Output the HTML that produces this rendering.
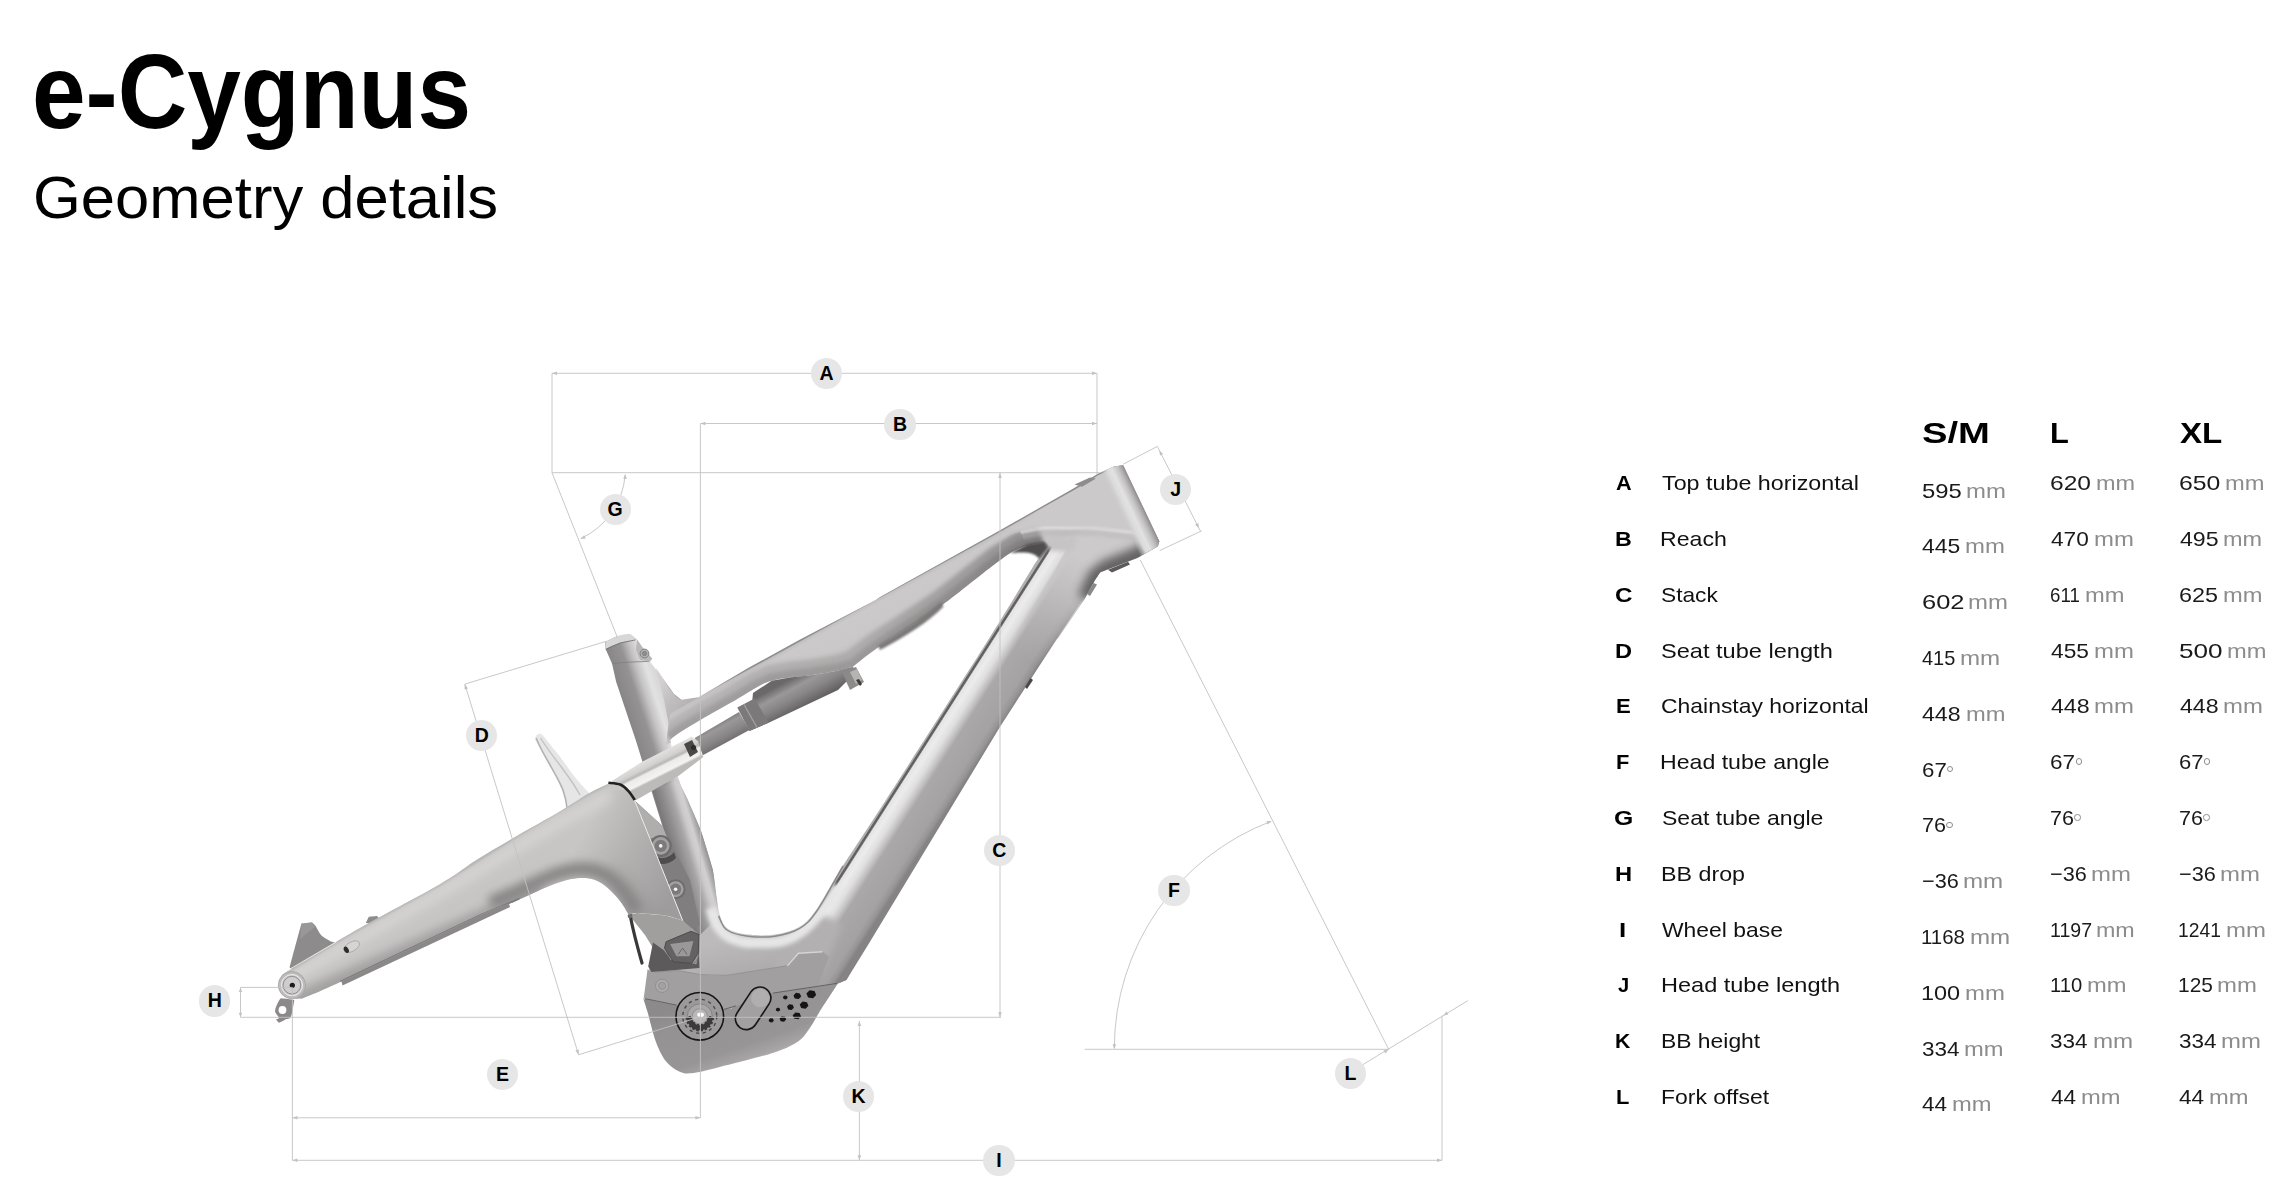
<!DOCTYPE html>
<html><head><meta charset="utf-8"><title>e-Cygnus Geometry details</title>
<style>
html,body{margin:0;padding:0;background:#fff;}
body{width:2292px;height:1184px;position:relative;overflow:hidden;font-family:"Liberation Sans",sans-serif;}
.t{position:absolute;white-space:pre;line-height:1;transform-origin:0 0;font-family:"Liberation Sans",sans-serif;}
.deg{position:absolute;width:4.6px;height:4.6px;border:0.9px solid #8c8c8c;border-radius:50%;}
.mk{position:absolute;width:31.4px;height:31.4px;border-radius:50%;background:#e6e6e6;color:#000;
 font:bold 19.5px/31.6px "Liberation Sans",sans-serif;text-align:center;}
svg{position:absolute;left:0;top:0;}
</style></head><body>
<svg width="2292" height="1184" viewBox="0 0 2292 1184">
<defs><filter id="b1" x="-50%" y="-50%" width="200%" height="200%"><feGaussianBlur stdDeviation="1"/></filter><filter id="b2" x="-50%" y="-50%" width="200%" height="200%"><feGaussianBlur stdDeviation="2"/></filter><filter id="b3" x="-50%" y="-50%" width="200%" height="200%"><feGaussianBlur stdDeviation="3"/></filter><filter id="b5" x="-50%" y="-50%" width="200%" height="200%"><feGaussianBlur stdDeviation="5"/></filter><filter id="b8" x="-50%" y="-50%" width="200%" height="200%"><feGaussianBlur stdDeviation="8"/></filter><linearGradient id="gDT" gradientUnits="userSpaceOnUse" x1="926" y1="731" x2="976.8" y2="763.4"><stop offset="0" stop-color="#b4b2b2"/><stop offset="0.075" stop-color="#b0aeae"/><stop offset="0.09" stop-color="#626060"/><stop offset="0.115" stop-color="#626060"/><stop offset="0.135" stop-color="#e4e4e4"/><stop offset="0.22" stop-color="#ececec"/><stop offset="0.33" stop-color="#e0dfdf"/><stop offset="0.42" stop-color="#c6c4c4"/><stop offset="0.5" stop-color="#aaa8a8"/><stop offset="0.85" stop-color="#a4a2a2"/><stop offset="0.94" stop-color="#979595"/><stop offset="1" stop-color="#858383"/></linearGradient><linearGradient id="gDTa" gradientUnits="userSpaceOnUse" x1="1075" y1="560" x2="990" y2="700"><stop offset="0" stop-color="#d2d0d0"/><stop offset="0.45" stop-color="#cfcdcd"/><stop offset="1" stop-color="#cfcdcd"/></linearGradient><linearGradient id="gDTl" gradientUnits="userSpaceOnUse" x1="1085" y1="560" x2="1025" y2="660"><stop offset="0" stop-color="#cccaca" stop-opacity="1"/><stop offset="0.3" stop-color="#c8c6c6" stop-opacity="0.8"/><stop offset="1" stop-color="#bcbaba" stop-opacity="0"/></linearGradient><linearGradient id="gTT" gradientUnits="userSpaceOnUse" x1="880" y1="597" x2="903" y2="639"><stop offset="0" stop-color="#8e8c8c"/><stop offset="0.025" stop-color="#c2c0c0"/><stop offset="0.1" stop-color="#cbc9c9"/><stop offset="0.5" stop-color="#cac8c8"/><stop offset="0.7" stop-color="#c6c4c4"/><stop offset="1" stop-color="#c0bebe"/></linearGradient><linearGradient id="gST" gradientUnits="userSpaceOnUse" x1="616" y1="682" x2="662" y2="667"><stop offset="0" stop-color="#878585"/><stop offset="0.32" stop-color="#959393"/><stop offset="0.5" stop-color="#c4c2c2"/><stop offset="0.68" stop-color="#e2e2e2"/><stop offset="0.88" stop-color="#d6d5d5"/><stop offset="1" stop-color="#9a9898"/></linearGradient><linearGradient id="gST2" gradientUnits="userSpaceOnUse" x1="670" y1="850" x2="703.1" y2="840.2"><stop offset="0" stop-color="#787676"/><stop offset="0.25" stop-color="#8e8c8c"/><stop offset="0.5" stop-color="#a8a6a6"/><stop offset="0.68" stop-color="#cccaca"/><stop offset="0.8" stop-color="#d2d0d0"/><stop offset="0.9" stop-color="#b4b2b2"/><stop offset="1" stop-color="#9a9898"/></linearGradient><linearGradient id="gHTc" gradientUnits="userSpaceOnUse" x1="1100" y1="472" x2="1121.6" y2="461.8"><stop offset="0" stop-color="#cbc9c8" stop-opacity="0"/><stop offset="0.3" stop-color="#dcdbdb"/><stop offset="0.5" stop-color="#e2e2e2"/><stop offset="0.75" stop-color="#c4c2c2"/><stop offset="0.92" stop-color="#a3a1a1"/><stop offset="1" stop-color="#8a8888"/></linearGradient><linearGradient id="gSH" gradientUnits="userSpaceOnUse" x1="770" y1="690" x2="785" y2="718"><stop offset="0" stop-color="#6a6868"/><stop offset="0.3" stop-color="#9a9898"/><stop offset="0.6" stop-color="#878585"/><stop offset="1" stop-color="#605e5e"/></linearGradient><linearGradient id="gBB" gradientUnits="userSpaceOnUse" x1="760" y1="930" x2="775" y2="990"><stop offset="0" stop-color="#bcbaba"/><stop offset="0.5" stop-color="#b1afaf"/><stop offset="1" stop-color="#a3a1a1"/></linearGradient><linearGradient id="gCS" gradientUnits="userSpaceOnUse" x1="400" y1="872" x2="428" y2="922"><stop offset="0" stop-color="#b4b2b2"/><stop offset="0.06" stop-color="#cac8c8"/><stop offset="0.45" stop-color="#c9c7c6"/><stop offset="0.55" stop-color="#d2d1d0"/><stop offset="0.62" stop-color="#c4c2c2"/><stop offset="0.85" stop-color="#b8b6b6"/><stop offset="0.93" stop-color="#9c9a9a"/><stop offset="1" stop-color="#7e7c7c"/></linearGradient><linearGradient id="gLK" gradientUnits="userSpaceOnUse" x1="650" y1="757" x2="660" y2="777"><stop offset="0" stop-color="#e3e2e1"/><stop offset="0.35" stop-color="#d3d1cf"/><stop offset="0.5" stop-color="#b9b7b5"/><stop offset="0.6" stop-color="#ecebea"/><stop offset="0.9" stop-color="#f3f2f1"/><stop offset="1" stop-color="#bdbbb9"/></linearGradient><linearGradient id="gMC" gradientUnits="userSpaceOnUse" x1="690" y1="1000" x2="720" y2="1072"><stop offset="0" stop-color="#9a9898"/><stop offset="0.7" stop-color="#949292"/><stop offset="0.92" stop-color="#a09e9e"/><stop offset="1" stop-color="#b0aeae"/></linearGradient><linearGradient id="gFL" gradientUnits="userSpaceOnUse" x1="655" y1="690" x2="690" y2="715"><stop offset="0" stop-color="#d2d0d0"/><stop offset="0.5" stop-color="#bebcbc"/><stop offset="1" stop-color="#b0aeae"/></linearGradient><clipPath id="cpTT"><path d="M666.0,745.0 L681.4,737.0 L700.3,726.0 L731.0,709.0 L756.0,694.0 L774.3,686.0 L810.7,681.0 L836.0,677.0 L852.9,672.0 L878.3,653.0 L912.0,631.0 L942.5,611.0 L998.3,567.0 L1020.2,554.0 L1042.2,549.0 L1049.0,546.0 L1075.0,532.0 L1096.0,529.0 L1129.0,531.0 L1146.7,533.0 L1159.3,541.2 L1123.2,465.2 L1113.7,466.5 L1097.9,473.8 L1074.3,488.1 L998.3,531.2 L880.0,597.1 L875.7,600.0 L799.6,639.7 L749.0,667.6 L698.3,697.4 L681.4,706.8 L670.0,713.2 Z"/></clipPath><linearGradient id="gLW1" gradientUnits="userSpaceOnUse" x1="700" y1="0" x2="1040" y2="0"><stop offset="0" stop-color="#b6b4b4"/><stop offset="0.5" stop-color="#adabab"/><stop offset="0.8" stop-color="#9e9c9c"/><stop offset="1" stop-color="#8e8c8c"/></linearGradient><linearGradient id="gLW2" gradientUnits="userSpaceOnUse" x1="700" y1="0" x2="1040" y2="0"><stop offset="0" stop-color="#a09e9e"/><stop offset="0.5" stop-color="#9a9898"/><stop offset="0.8" stop-color="#8c8a8a"/><stop offset="1" stop-color="#7c7a7a"/></linearGradient><linearGradient id="gUF" gradientUnits="userSpaceOnUse" x1="985" y1="545" x2="1045" y2="512"><stop offset="0" stop-color="#cac8c8" stop-opacity="0"/><stop offset="1" stop-color="#cbc9c9" stop-opacity="1"/></linearGradient><clipPath id="cpHull"><path d="M1020.0,531.0 L1074.3,488.1 L1097.9,473.8 L1113.7,466.5 L1123.2,465.2 L1159.3,541.2 L1158.0,546.3 L1137.8,557.7 L1108.7,569.1 L1100.0,572.4 L1095.0,580.0 L1084.8,598.8 L1058.0,638.3 L1034.6,675.7 L985.0,690.0 L1016.0,634.0 L1049.0,546.0 L1030.0,553.0 Z"/></clipPath><clipPath id="cpRT"><path d="M282.0,974.9 C294.1,967.6 328.3,946.1 354.6,931.0 C380.9,915.9 419.7,896.0 440.0,884.2 C460.3,872.4 464.0,867.8 476.3,860.0 C488.6,852.2 499.7,845.9 513.8,837.7 C527.9,829.5 548.7,818.0 561.1,810.7 C573.5,803.4 580.2,798.3 588.1,793.8 C596.0,789.3 605.0,785.4 608.4,783.7 C610.4,784.0 616.8,783.9 620.2,785.3 C623.6,786.7 626.3,789.6 628.7,792.1 C631.1,794.6 633.6,799.1 634.6,800.5 C637.0,806.4 643.7,823.0 648.9,836.0 C654.1,849.0 660.2,864.2 665.8,878.3 C671.4,892.4 679.9,913.5 682.7,920.5 C679.9,919.6 673.4,916.7 665.8,915.4 C658.2,914.1 643.3,913.0 637.1,912.9 C630.9,912.8 630.1,914.3 628.7,914.6 C627.6,912.8 624.4,907.1 621.9,903.6 C619.4,900.1 616.9,896.9 613.5,893.5 C610.1,890.1 605.8,885.8 601.6,883.3 C597.4,880.8 593.2,879.0 588.1,878.3 C583.0,877.6 578.0,877.7 571.2,879.1 C564.5,880.5 557.2,882.9 547.6,886.7 C538.0,890.5 525.1,897.1 513.8,901.9 C502.5,906.7 508.8,902.1 480.0,915.4 C451.2,928.7 370.7,967.8 341.1,981.6 C311.5,995.5 308.7,995.7 302.2,998.5 C300.5,998.4 295.5,999.1 292.0,998.0 C288.5,996.9 283.2,994.7 281.0,992.0 C278.8,989.3 278.8,984.9 279.0,982.0 C279.2,979.1 281.5,976.1 282.0,974.9 Z"/></clipPath><linearGradient id="gYK" gradientUnits="userSpaceOnUse" x1="585" y1="830" x2="680" y2="880"><stop offset="0" stop-color="#9a9898" stop-opacity="0"/><stop offset="0.6" stop-color="#a09e9e" stop-opacity="0.65"/><stop offset="1" stop-color="#9a9898" stop-opacity="0.9"/></linearGradient><linearGradient id="gMC2" gradientUnits="userSpaceOnUse" x1="700" y1="1000" x2="725" y2="1072"><stop offset="0" stop-color="#8c8a8a"/><stop offset="0.25" stop-color="#949292"/><stop offset="0.75" stop-color="#979595"/><stop offset="0.93" stop-color="#a6a4a4"/><stop offset="1" stop-color="#b2b0b0"/></linearGradient></defs>
<g><path d="M537.5,734.6 C539.5,733 541.5,733.6 542.8,735.3 C548,742 552,747 556.7,752.6 C562,759 568,768 573,774.8 C578,781 584,788 590,794 L568,812 C566,806 566,804 565.9,803.2 C565,797 563,792 560.8,787 C557,778 552,770 548.6,762.7 C544,754 539,747 535.5,740.4 C535,738 535.5,736 537.5,734.6 Z" fill="#e6e6e6" />
<path d="M536.2,738 C540,748 546,758 549.5,764 C554,772 560,782 563,790 C565,796 566.5,802 567,808" fill="none" stroke="#b4b2b2" stroke-width="1.6"/>
<path d="M540.5,738 C548,750 556,760 562,768 C568,776 575,786 580,795" fill="none" stroke="#c4c2c2" stroke-width="1.4"/>
<polygon points="605.2,642.0 605.7,649.3 612.0,663.5 616.2,682.0 635.8,740.2 654.3,800.0 690.0,915.0 700.0,960.0 745.0,960.0 740.0,930.0 719.9,915.4 716.5,895.2 713.1,869.8 701.3,831.0 688.1,800.0 679.1,780.0 671.2,743.6 672.0,737.7 690.0,715.0 681.4,699.7 674.0,694.0 665.4,682.0 650.2,661.9 652.3,658.7 642.4,647.2 637.1,639.4 630.8,634.4 615.0,637.0" fill="url(#gST)" />
<polygon points="652.3,790.4 690.0,915.0 700.0,960.0 745.0,960.0 740.0,930.0 719.9,915.4 716.5,895.2 713.1,869.8 701.3,831.0 688.1,800.0 679.1,780.0" fill="url(#gST2)" />
<path d="M605.4,642.5 C612,636.5 626,632.5 631,634.4 L637.1,639.4 C626,640 612,645 605.7,649.3 Z" fill="#d8d7d7" />
<polyline points="605.7,649.3 620.0,643.0 635.5,639.9" fill="none" stroke="#6f6d6d" stroke-width="0.8" />
<polyline points="612.0,663.5 632.0,662.0 649.2,661.4" fill="none" stroke="#807e7e" stroke-width="0.8" />
<polygon points="637.1,639.4 642.4,647.2 652.3,658.7 649.2,661.4 640.0,660.0 636.0,650.0" fill="#b9b7b7" />
<circle cx="644.5" cy="653.5" r="4.4" fill="#b4b2b2" stroke="#7c7a7a" stroke-width="0.9"/>
<circle cx="644.5" cy="653.5" r="2.2" fill="#8f8d8d" stroke="#6c6a6a" stroke-width="0.5"/>
<path d="M656,668 L665.4,682 C670,690 675,697 681.4,699.7 L698.3,697.2 L700,722 L672,740 L664,700 Z" fill="url(#gFL)" />
<polygon points="648.0,975.0 655.0,945.0 700.0,935.0 719.9,915.4 735.0,905.0 790.0,915.0 830.0,880.0 866.0,944.0 846.4,980.0 838.0,983.6 772.0,993.0 738.0,1006.0 725.0,1010.0 676.0,1006.0 645.0,1000.0" fill="url(#gBB)" />
<polygon points="1020.0,531.0 1074.3,488.1 1113.7,466.5 1123.2,465.2 1159.3,541.2 1158.0,546.3 1137.8,557.7 1108.7,569.1 1100.0,572.4 1095.0,580.0 1084.8,598.8 1058.0,638.3 1010.0,640.0 1030.0,560.0" fill="#c9c7c7" />
<polygon points="1049.0,546.0 1028.0,568.4 984.1,640.0 881.9,800.0 835.6,871.0 812.0,910.0 785.0,958.0 772.0,993.0 838.0,983.6 846.4,980.0 868.3,944.6 999.9,727.0 1095.0,580.0 1100.0,572.4 1105.0,555.0" fill="url(#gDT)" />
<polygon points="1072.0,540.0 1052.0,575.0 1016.0,634.0 985.0,690.0 1024.0,690.0 1058.0,638.3 1084.8,598.8 1095.0,580.0 1100.0,572.4 1108.7,569.1 1137.8,557.7 1130.0,530.0 1085.0,528.0" fill="url(#gDTl)" />
<path d="M808,908 L842,924 L822,972 L768,998 L776,958 Z" fill="#b2b0b0" filter="url(#b3)"/>
<path d="M838,886 C812,930 792,942.5 770,942.5 L748,942.5 C730,940.5 716,933 711,908" fill="none" stroke="#e6e6e6" stroke-width="11" filter="url(#b2)"/>
<polygon points="666.0,745.0 681.4,737.0 700.3,726.0 731.0,709.0 756.0,694.0 774.3,686.0 810.7,681.0 836.0,677.0 852.9,672.0 878.3,653.0 912.0,631.0 942.5,611.0 998.3,567.0 1020.2,554.0 1042.2,549.0 1049.0,546.0 1075.0,532.0 1096.0,529.0 1129.0,531.0 1146.7,533.0 1159.3,541.2 1123.2,465.2 1113.7,466.5 1097.9,473.8 1074.3,488.1 998.3,531.2 880.0,597.1 875.7,600.0 799.6,639.7 749.0,667.6 698.3,697.4 681.4,706.8 670.0,713.2" fill="url(#gTT)" />
<g clip-path="url(#cpTT)">
<polyline points="670.8,739.5 681.4,731.5 700.8,719.8 731.2,702.6 756.5,687.4 771.7,680.8 790.0,677.5 810.7,675.2 836.0,671.0 852.9,666.7 878.3,647.3 912.0,625.3 942.5,605.1 998.3,561.6 1020.2,548.1 1042.2,543.1" fill="none" stroke="url(#gLW1)" stroke-width="32" filter="url(#b2)" stroke-linejoin="round"/>
<polyline points="670.8,739.5 681.4,731.5 700.8,719.8 731.2,702.6 756.5,687.4 771.7,680.8 790.0,677.5 810.7,675.2 836.0,671.0 852.9,666.7 878.3,647.3 912.0,625.3 942.5,605.1 998.3,561.6 1020.2,548.1 1042.2,543.1" fill="none" stroke="url(#gLW2)" stroke-width="15" filter="url(#b2)" stroke-linejoin="round"/>
</g>
<polygon points="985.7,539.8 1075.0,489.4 1098.6,475.1 1114.4,467.8 1123.2,466.5 1159.3,541.2 1146.7,533.0 1129.0,531.0 1096.0,527.3 1045.3,526.6 1020.0,531.5 1010.4,535.1 986.0,549.0" fill="url(#gUF)" />
<g clip-path="url(#cpHull)">
<path d="M1160,546 L1138,558 L1108,570 L1098,578 L1088,600" fill="none" stroke="#5a5858" stroke-width="22" filter="url(#b5)" opacity="0.9"/>
<path d="M1018,533 L1045,528 L1096,528.5 L1129,532 L1150,535" fill="none" stroke="#e2e1e1" stroke-width="2.5" filter="url(#b1)"/>
<path d="M1018,537 L1045,532.5 L1096,533 L1129,537 L1150,541" fill="none" stroke="#b6b4b4" stroke-width="3" filter="url(#b2)" opacity="0.8"/>
</g>
<polygon points="1097.9,473.8 1113.7,466.5 1123.2,465.2 1159.3,541.2 1158.0,546.3 1137.8,557.7 1134.0,552.0" fill="url(#gHTc)" />
<polygon points="1074.5,484.5 1090.0,477.4 1096.0,478.6 1082.0,486.7" fill="#8e8c8c" />
<polygon points="1108.0,569.8 1128.0,561.8 1130.0,564.5 1112.0,572.5" fill="#5c5a5a" />
<polygon points="1093.5,583.0 1097.0,584.5 1090.0,596.0 1087.0,594.0" fill="#8a8888" />
<polygon points="1030.5,678.0 1033.0,680.0 1027.0,689.0 1025.0,687.0" fill="#4a4848" />
<path d="M1042.2,543.1 C1042.9,543.9 1048.1,543.9 1046.4,548.1 C1044.7,552.3 1041.7,553.1 1032.0,568.4 C1022.3,583.7 1012.5,601.4 988.1,640.0 C963.8,678.6 910.6,761.5 885.9,800.0 C861.1,838.5 851.2,852.7 839.6,871.0 C828.0,889.3 822.8,900.7 816.0,910.0 C809.2,919.3 805.8,922.9 799.0,927.0 C792.2,931.1 783.5,933.3 775.0,934.6 C766.5,935.9 755.8,935.6 748.0,934.6 C740.2,933.6 732.7,931.9 728.0,928.7 C723.3,925.5 721.8,921.0 719.9,915.4 C718.0,909.8 717.6,902.8 716.5,895.2 C715.4,887.6 715.6,880.5 713.1,869.8 C710.6,859.1 705.5,842.6 701.3,831.0 C697.1,819.4 691.8,808.5 688.1,800.0 C684.4,791.5 681.9,789.4 679.1,780.0 C676.3,770.6 672.6,750.4 671.2,743.6 C669.8,736.9 669.1,741.5 670.8,739.5 C672.5,737.5 676.4,734.8 681.4,731.5 C686.4,728.2 692.5,724.6 700.8,719.8 C709.1,715.0 721.9,708.0 731.2,702.6 C740.5,697.2 749.8,691.0 756.5,687.4 C763.2,683.8 766.1,682.4 771.7,680.8 C777.3,679.1 783.5,678.4 790.0,677.5 C796.5,676.6 803.0,676.3 810.7,675.2 C818.4,674.1 829.0,672.4 836.0,671.0 C843.0,669.6 850.1,667.4 852.9,666.7 C857.1,663.5 868.4,654.2 878.3,647.3 C888.1,640.4 901.3,632.3 912.0,625.3 C922.7,618.3 928.1,615.7 942.5,605.1 C956.9,594.5 985.3,571.1 998.3,561.6 C1011.2,552.1 1012.9,551.2 1020.2,548.1 C1027.5,545.0 1038.5,543.9 1042.2,543.1 Z" fill="#fff" />
<path d="M843.0,866.0 C838.6,873.5 824.0,900.6 816.8,911.0 C809.6,921.4 806.6,924.2 799.6,928.4 C792.6,932.6 783.6,934.9 775.0,936.2 C766.4,937.5 756.0,937.2 748.0,936.2 C740.0,935.2 731.9,933.4 727.0,930.0 C722.1,926.6 720.0,918.3 718.6,916.0" fill="none" stroke="#8c8a8a" stroke-width="1.5"/>
<path d="M1010,553 L1028,544 L1044,541.5 L1049.5,546.5 L1039,559 C1036,552.5 1026,551.5 1010,553 Z" fill="#504e4e" filter="url(#b1)"/>
<path d="M1047,540 L1078,538 L1072,552 L1050,551 Z" fill="#c6c4c4" filter="url(#b2)"/>
<path d="M878,645.5 C900,632 925,616 941,602 L943.5,606.5 C930,621 905,637 880,650 Z" fill="#7a7878" filter="url(#b1)"/>
<polygon points="694.7,738.0 702.8,755.2 749.4,730.0 739.0,712.0" fill="url(#gSH)" />
<polygon points="749.4,730.9 768.7,722.8 838.0,690.0 846.0,682.0 858.0,676.0 852.9,666.7 836.0,671.0 810.7,675.2 790.0,677.5 771.7,680.8 753.0,693.0" fill="url(#gSH)" />
<polygon points="737.3,707.6 754.5,698.5 768.7,722.8 749.4,730.9" fill="#7b7979" />
<polyline points="744.0,704.5 757.0,727.5" fill="none" stroke="#a5a3a3" stroke-width="1.2" />
<polygon points="842.0,672.0 850.0,690.0 864.0,682.0 856.0,667.0" fill="#8c8a88" />
<polygon points="850.0,672.0 856.0,684.0 862.0,680.0 857.0,669.0" fill="#b6b4b2" />
<polygon points="856.0,680.0 860.0,686.0 862.0,684.0 859.0,679.0" fill="#3c3a38" />
<polygon points="634.6,800.5 662.5,825.9 690.0,880.0 700.0,925.0 689.5,930.6 682.7,920.5 665.8,878.3 648.9,836.0" fill="#807e7e" />
<polygon points="634.6,800.5 662.5,825.9 668.0,840.0 650.0,838.0" fill="#b0aeac" />
<path d="M652,853 C656,860 668,860 674,852 L676,858 C668,866 656,866 650,858 Z" fill="#4e4c4c" />
<circle cx="660.7" cy="845.9" r="11" fill="#6e6c6c" />
<circle cx="660.7" cy="845.9" r="8.8" fill="#a3a1a1" />
<circle cx="660.7" cy="845.9" r="6.16" fill="#7c7a7a" />
<circle cx="660.7" cy="845.9" r="1.8" fill="#f6f6f6" />
<circle cx="675.6" cy="889.2" r="10" fill="#6e6c6c" />
<circle cx="675.6" cy="889.2" r="8.0" fill="#a3a1a1" />
<circle cx="675.6" cy="889.2" r="5.6000000000000005" fill="#7c7a7a" />
<circle cx="675.6" cy="889.2" r="1.8" fill="#f6f6f6" />
<polygon points="628.7,914.6 637.1,912.9 665.8,915.4 682.7,920.5 699.6,935.0 699.0,966.0 664.0,966.0 645.0,935.0" fill="#a19f9d" />
<path d="M666.0,944.0 C667.4,941.0 682.8,934.6 686.0,934.0 C689.2,933.4 696.8,935.6 698.0,938.0 C699.2,940.4 698.8,955.2 698.0,958.0 C697.2,960.8 692.6,965.4 690.0,966.0 C687.4,966.6 674.4,966.2 672.0,964.0 C669.6,961.8 664.6,947.0 666.0,944.0 Z" fill="#9a9896" stroke="#6f6d6b" stroke-width="1"/>
<path d="M630.5,917 C633,930 636,942 642,963" fill="none" stroke="#3a3838" stroke-width="3.2" stroke-linecap="round"/>
<circle cx="630" cy="916" r="2.4" fill="#6e6c6c" />
<polygon points="611.8,781.1 642.2,761.7 691.5,736.8 698.0,741.0 703.3,757.1 679.4,775.2 635.4,800.5 622.0,786.0" fill="url(#gLK)" />
<polygon points="684.0,744.0 692.0,740.0 698.0,752.0 690.0,757.0" fill="#4a4846" />
<circle cx="693.5" cy="747.5" r="2.6" fill="#2e2c2a" />
<path d="M301.4,923.7 C302.8,923.5 310.6,922.6 312.0,922.5 C312.5,922.9 314.3,924.3 315.6,926.0 C316.8,927.8 319.4,933.4 321.5,935.5 C323.5,937.5 328.7,940.4 331.0,941.4 C333.2,942.4 337.1,942.6 338.1,942.8 C332.4,946.6 301.2,967.2 295.5,971.0 C294.7,970.5 290.4,967.9 289.6,967.4 C291.1,961.6 299.8,929.5 301.4,923.7 Z" fill="#8d8b8b" />
<polygon points="301.4,923.7 312.0,922.5 315.6,926.3 300.2,939.0" fill="#999797" />
<polygon points="365.8,923.1 368.8,916.8 377.1,916.1 379.4,918.9 373.5,923.7" fill="#8d8b8b" />
<path d="M280.7,998.2 C283.0,998.5 292.0,999.6 294.3,999.9 C293.7,1002.7 292.5,1013.2 291.0,1016.5 C289.5,1019.7 287.4,1018.4 285.4,1019.4 C283.4,1020.5 280.0,1022.2 278.9,1022.8 C278.4,1022.2 276.5,1020.2 276.0,1019.7 C276.5,1019.3 279.1,1019.1 278.9,1017.7 C278.8,1016.2 275.3,1013.6 275.1,1011.2 C274.9,1008.7 276.8,1005.1 277.7,1002.9 C278.7,1000.7 280.2,998.9 280.7,998.2 Z" fill="#8b8989" />
<circle cx="282.4692526017029" cy="1009.9810785241249" r="3.9" fill="#fff" />
<polygon points="341.0,979.5 342.5,985.5 510.0,907.0 508.0,900.5" fill="#8a8888" />
<path d="M282.0,974.9 C294.1,967.6 328.3,946.1 354.6,931.0 C380.9,915.9 419.7,896.0 440.0,884.2 C460.3,872.4 464.0,867.8 476.3,860.0 C488.6,852.2 499.7,845.9 513.8,837.7 C527.9,829.5 548.7,818.0 561.1,810.7 C573.5,803.4 580.2,798.3 588.1,793.8 C596.0,789.3 605.0,785.4 608.4,783.7 C610.4,784.0 616.8,783.9 620.2,785.3 C623.6,786.7 626.3,789.6 628.7,792.1 C631.1,794.6 633.6,799.1 634.6,800.5 C637.0,806.4 643.7,823.0 648.9,836.0 C654.1,849.0 660.2,864.2 665.8,878.3 C671.4,892.4 679.9,913.5 682.7,920.5 C679.9,919.6 673.4,916.7 665.8,915.4 C658.2,914.1 643.3,913.0 637.1,912.9 C630.9,912.8 630.1,914.3 628.7,914.6 C627.6,912.8 624.4,907.1 621.9,903.6 C619.4,900.1 616.9,896.9 613.5,893.5 C610.1,890.1 605.8,885.8 601.6,883.3 C597.4,880.8 593.2,879.0 588.1,878.3 C583.0,877.6 578.0,877.7 571.2,879.1 C564.5,880.5 557.2,882.9 547.6,886.7 C538.0,890.5 525.1,897.1 513.8,901.9 C502.5,906.7 508.8,902.1 480.0,915.4 C451.2,928.7 370.7,967.8 341.1,981.6 C311.5,995.5 308.7,995.7 302.2,998.5 C300.5,998.4 295.5,999.1 292.0,998.0 C288.5,996.9 283.2,994.7 281.0,992.0 C278.8,989.3 278.8,984.9 279.0,982.0 C279.2,979.1 281.5,976.1 282.0,974.9 Z" fill="#c8c6c5" />
<g clip-path="url(#cpRT)">
<path d="M290,978 L440,893 L560,822 L612,795" fill="none" stroke="#d4d3d2" stroke-width="12" filter="url(#b5)"/>
<path d="M296,1006 L480,923 L545,895" fill="none" stroke="#a3a1a1" stroke-width="26" filter="url(#b5)"/>
<path d="M610,860 L650,905 L690,935 L640,935 Z" fill="#9c9a9a" filter="url(#b8)"/>
<polygon points="560.0,790.0 640.0,790.0 700.0,940.0 560.0,940.0" fill="url(#gYK)" />
<path d="M490.0,903.0 C494.0,901.3 504.2,897.2 513.8,893.0 C523.4,888.8 538.0,881.3 547.6,877.5 C557.2,873.7 564.1,871.3 571.2,870.0 C578.3,868.7 584.0,868.6 590.0,869.5 C596.0,870.4 601.9,872.5 607.0,875.5 C612.1,878.5 616.7,883.4 620.5,887.5 C624.3,891.6 627.2,895.9 630.0,900.0 C632.8,904.1 635.8,910.0 637.0,912.0" fill="none" stroke="#868484" stroke-width="13" filter="url(#b5)"/>
<path d="M341,983 L480,917 L520,900" fill="none" stroke="#7e7c7c" stroke-width="5"/>
<path d="M282,975 L354.6,931 L440,884.2 L513.8,837.7 L588.1,793.8 L608.4,783.7" fill="none" stroke="#aeacac" stroke-width="2" filter="url(#b1)"/>
</g>
<path d="M608.4,782.7 C610.4,783.0 616.8,783.1 620.2,784.5 C623.6,785.9 626.3,788.7 628.7,791.3 C631.1,793.9 633.8,798.5 634.8,800.0" fill="none" stroke="#222020" stroke-width="2.6"/>
<polyline points="634.6,800.5 648.9,836.0 665.8,878.3 682.7,920.5" fill="none" stroke="#ecebea" stroke-width="1" />
<circle cx="291.92999053926206" cy="985.1466414380321" r="13.6" fill="#bdbbbb" stroke="#a3a1a1" stroke-width="0.8"/>
<circle cx="291.92999053926206" cy="985.1466414380321" r="10.6" fill="#c9c7c7" stroke="#efefef" stroke-width="1"/>
<circle cx="291.92999053926206" cy="985.1466414380321" r="8.8" fill="#cfcdcd" stroke="#8a8888" stroke-width="0.9"/>
<circle cx="292.32999053926204" cy="985.3466414380322" r="2.6" fill="#1c1a1a" />
<polyline points="286.6,971.0 336.9,941.6" fill="none" stroke="#f0f0f0" stroke-width="0.9" />
<g transform="rotate(-30 351.7 946.7)"><ellipse cx="351.7" cy="946.7" rx="8.6" ry="4.6" fill="#d6d5d5" stroke="#a09e9e" stroke-width="0.7"/><ellipse cx="345.5" cy="946.7" rx="2.2" ry="3.4" fill="#2c2a2a"/></g>
<path d="M647.6,969.0 C648.5,969.4 650.0,972.0 654.1,972.2 C658.1,972.4 671.9,970.3 678.1,970.6 C684.3,970.9 694.2,974.0 700.6,974.6 C707.0,975.2 714.7,976.6 726.3,975.4 C737.8,974.2 779.1,967.1 787.2,965.8 C788.7,964.1 797.0,954.7 798.5,952.9 C801.7,952.7 819.3,951.6 822.5,951.3 C823.4,952.1 828.1,956.2 829.0,957.0 C827.5,960.9 819.5,982.4 818.0,986.3 C817.9,986.3 823.0,985.5 817.0,986.4 C811.0,987.3 783.6,990.5 772.8,993.1 C762.0,995.7 742.1,1003.7 735.9,1005.9 C729.7,1008.0 734.2,1009.2 726.3,1009.1 C718.3,1009.0 687.3,1006.5 676.5,1005.1 C665.7,1003.7 649.6,999.4 645.2,998.7 C640.9,997.9 643.9,999.4 643.6,999.5 C644.2,995.4 647.1,973.1 647.6,969.0 Z" fill="#a19f9f" />
<polyline points="787.2,966.1 798.5,953.3 822.5,951.7" fill="none" stroke="#d6d5d5" stroke-width="1.4" />
<polyline points="654.1,972.2 678.1,970.6 700.6,974.6 726.3,975.4 787.2,965.8" fill="none" stroke="#8f8d8d" stroke-width="0.8" />
<path d="M645.2,998.7 C649.9,999.6 664.4,1003.5 676.5,1005.1 C688.7,1006.7 717.4,1009.0 726.3,1009.1 C735.2,1009.2 728.9,1008.3 735.9,1005.9 C742.9,1003.5 757.6,996.4 772.8,993.1 C787.9,989.7 827.1,985.0 837.0,983.4 C846.8,981.9 838.3,982.7 838.6,982.6 C835.7,987.1 823.6,1005.4 819.3,1012.3 C815.0,1019.2 812.8,1024.0 809.7,1028.3 C806.6,1032.7 803.8,1037.6 798.5,1041.2 C793.2,1044.8 786.2,1048.6 774.4,1052.4 C762.6,1056.3 732.4,1063.7 719.8,1066.9 C707.3,1070.0 697.2,1072.7 691.0,1073.3 C684.7,1073.9 682.0,1072.8 678.1,1070.9 C674.3,1068.9 668.7,1064.9 665.3,1060.4 C661.9,1056.0 658.3,1048.4 655.7,1041.2 C653.0,1034.0 649.5,1018.6 647.6,1012.3 C645.8,1006.0 644.2,1001.4 643.6,999.5 C643.9,999.4 645.0,998.8 645.2,998.7 Z" fill="url(#gMC2)" />
<polyline points="645.2,998.7 676.5,1005.1" fill="none" stroke="#5e5c5c" stroke-width="0.9" />
<polyline points="723.9,1009.4 735.9,1005.9" fill="none" stroke="#5e5c5c" stroke-width="0.9" />
<polyline points="772.8,993.1 837.0,983.4" fill="none" stroke="#5e5c5c" stroke-width="0.9" />
<circle cx="662.0872773945131" cy="985.8334670303225" r="6.6" fill="#adabab" stroke="#8c8a8a" stroke-width="0.8"/>
<circle cx="662.0872773945131" cy="985.8334670303225" r="3.6" fill="#a3a1a1" stroke="#8c8a8a" stroke-width="0.7"/>
<circle cx="699.789828333066" cy="1016.3163805551098" r="23.8" fill="#9b9999" stroke="#161616" stroke-width="1.6"/>
<circle cx="699.789828333066" cy="1016.3163805551098" r="17" fill="none" stroke="#4a4848" stroke-width="1.4" stroke-dasharray="3.2 3.6"/>
<circle cx="699.789828333066" cy="1016.3163805551098" r="12.5" fill="#a9a7a7" stroke="#7c7a7a" stroke-width="0.8"/>
<path d="M686.8,1017.3 A13,13 0 0 0 712.8,1017.3 L707.8,1017.3 A8,8 0 0 1 691.8,1017.3 Z" fill="#3c3a3a" stroke="#3c3a3a" stroke-width="2.4" stroke-dasharray="2.4 1.8"/>
<circle cx="699.789828333066" cy="1016.3163805551098" r="7.6" fill="#b9b7b7" stroke="#8a8888" stroke-width="0.8"/>
<ellipse cx="700.6" cy="1014.7" rx="3.4" ry="2.3" fill="#fff"/>
<line x1="760.0" y1="997.9" x2="746.3" y2="1018.7" stroke="#161616" stroke-width="23.4" stroke-linecap="round"/>
<line x1="760.0" y1="997.9" x2="746.3" y2="1018.7" stroke="#a2a0a0" stroke-width="20.2" stroke-linecap="round"/>
<circle cx="760.2534734477779" cy="998.0661960532649" r="9.2" fill="#b0aeae" />
<polygon points="787.7,997.8 786.1,999.4 783.7,999.0 782.9,997.0 784.5,995.4 786.9,995.8" fill="#151515" />
<polygon points="801.2,996.5 798.7,999.1 794.8,998.5 793.5,995.4 796.0,992.8 799.8,993.4" fill="#151515" />
<polygon points="816.2,995.1 813.0,998.3 808.1,997.6 806.4,993.6 809.6,990.3 814.5,991.1" fill="#151515" />
<polygon points="780.2,1009.9 778.7,1011.4 776.4,1011.1 775.7,1009.2 777.1,1007.7 779.4,1008.1" fill="#151515" />
<polygon points="793.9,1007.7 791.6,1010.0 788.2,1009.5 787.0,1006.6 789.2,1004.3 792.7,1004.8" fill="#151515" />
<polygon points="808.4,1005.7 805.6,1008.7 801.2,1008.0 799.7,1004.4 802.6,1001.5 806.9,1002.2" fill="#151515" />
<polygon points="773.8,1020.7 772.1,1022.5 769.5,1022.1 768.6,1019.9 770.3,1018.2 772.9,1018.6" fill="#151515" />
<polygon points="786.2,1019.5 784.0,1021.8 780.7,1021.3 779.6,1018.5 781.7,1016.3 785.1,1016.8" fill="#151515" />
<polygon points="801.0,1016.5 798.3,1019.3 794.1,1018.6 792.7,1015.2 795.4,1012.4 799.6,1013.0" fill="#151515" />
<polygon points="653.0,942.5 664.2,950.5 670.6,960.1 696.3,964.2 699.0,955.0 699.5,968.0 651.4,972.0 648.2,966.6" fill="#5c5a5a" />
<polygon points="666.1,941.7 691.0,931.3 699.0,934.5 698.2,952.9 691.8,963.4 673.3,961.8 664.5,948.1" fill="#646262" stroke="#4e4c4c" stroke-width="1" stroke-linejoin="round"/>
<polygon points="670.1,944.1 693.4,940.9 689.4,956.2 676.5,956.2" fill="#9a9898" />
<polyline points="678.1,954.5 682.6,948.1 687.1,954.5" fill="none" stroke="#6a6868" stroke-width="1" /></g>
<g stroke="#c2c2c2" stroke-width="0.9" fill="none">
<line x1="552" y1="373.3" x2="1097" y2="373.3"/>
<polygon points="552.0,373.3 557.0,371.5 557.0,375.1" fill="#c2c2c2" stroke="none"/>
<polygon points="1097.0,373.3 1092.0,375.1 1092.0,371.5" fill="#c2c2c2" stroke="none"/>
<line x1="552" y1="373.3" x2="552" y2="472.7"/>
<line x1="552" y1="472.7" x2="1100" y2="472.7"/>
<line x1="1097" y1="373.3" x2="1097" y2="474"/>
<line x1="700.4" y1="423.5" x2="1097" y2="423.5"/>
<polygon points="700.4,423.5 705.4,421.7 705.4,425.3" fill="#c2c2c2" stroke="none"/>
<polygon points="1097.0,423.5 1092.0,425.3 1092.0,421.7" fill="#c2c2c2" stroke="none"/>
<line x1="700.4" y1="423.5" x2="700.4" y2="1117.8"/>
<line x1="1000" y1="472.7" x2="1000" y2="1017.3"/>
<polygon points="1000.0,473.0 1001.8,478.0 998.2,478.0" fill="#c2c2c2" stroke="none"/>
<polygon points="1000.0,1017.3 998.2,1012.3 1001.8,1012.3" fill="#c2c2c2" stroke="none"/>
<line x1="240.5" y1="1017.3" x2="1001" y2="1017.3"/>
<line x1="552" y1="472.7" x2="617.4" y2="637.5"/>
<path d="M625.2,474.8 A77.2,77.2 0 0 1 580.8,538.6" fill="none"/>
<polygon points="625.4,474.0 626.8,479.1 623.2,478.8" fill="#c2c2c2" stroke="none"/>
<polygon points="580.4,538.9 584.2,535.2 585.7,538.5" fill="#c2c2c2" stroke="none"/>
<line x1="605.6" y1="641.5" x2="464.8" y2="684.1"/>
<line x1="464.8" y1="684.1" x2="578.6" y2="1054.8"/>
<polygon points="464.8,684.1 468.0,688.4 464.5,689.4" fill="#c2c2c2" stroke="none"/>
<polygon points="578.6,1054.8 575.4,1050.5 578.9,1049.5" fill="#c2c2c2" stroke="none"/>
<line x1="578.6" y1="1054.8" x2="700.4" y2="1016.8"/>
<line x1="240.5" y1="987.4" x2="292.4" y2="987.4"/>
<line x1="240.5" y1="987.4" x2="240.5" y2="1017.3"/>
<polygon points="240.5,987.4 242.2,991.9 238.8,991.9" fill="#c2c2c2" stroke="none"/>
<polygon points="240.5,1017.3 238.8,1012.8 242.2,1012.8" fill="#c2c2c2" stroke="none"/>
<line x1="292.4" y1="987.4" x2="292.4" y2="1160.3"/>
<line x1="292.4" y1="1117.8" x2="700.4" y2="1117.8"/>
<polygon points="292.4,1117.8 297.4,1116.0 297.4,1119.6" fill="#c2c2c2" stroke="none"/>
<polygon points="700.4,1117.8 695.4,1119.6 695.4,1116.0" fill="#c2c2c2" stroke="none"/>
<line x1="292.4" y1="1160.3" x2="1442" y2="1160.3"/>
<polygon points="292.4,1160.3 297.4,1158.5 297.4,1162.1" fill="#c2c2c2" stroke="none"/>
<polygon points="1442.0,1160.3 1437.0,1162.1 1437.0,1158.5" fill="#c2c2c2" stroke="none"/>
<line x1="1442" y1="1015.5" x2="1442" y2="1160.3"/>
<line x1="859.4" y1="1021" x2="859.4" y2="1160.3"/>
<polygon points="859.4,1021.0 861.2,1026.0 857.6,1026.0" fill="#c2c2c2" stroke="none"/>
<polygon points="859.4,1160.3 857.6,1155.3 861.2,1155.3" fill="#c2c2c2" stroke="none"/>
<line x1="1084.7" y1="1049.3" x2="1388.7" y2="1049.3"/>
<line x1="1140.3" y1="560" x2="1388.7" y2="1049.3"/>
<path d="M1114.3,1048.4 A243.3,243.3 0 0 1 1271.1,821.3" fill="none"/>
<polygon points="1114.3,1049.3 1112.6,1044.3 1116.2,1044.3" fill="#c2c2c2" stroke="none"/>
<polygon points="1271.6,821.0 1267.7,824.6 1266.3,821.3" fill="#c2c2c2" stroke="none"/>
<line x1="1350.8" y1="1072" x2="1467.9" y2="1000.6"/>
<polygon points="1388.7,1049.3 1385.4,1053.4 1383.5,1050.4" fill="#c2c2c2" stroke="none"/>
<polygon points="1443.2,1015.5 1446.5,1011.4 1448.4,1014.4" fill="#c2c2c2" stroke="none"/>
<line x1="1123.2" y1="464.2" x2="1157.3" y2="446.4"/>
<line x1="1157.3" y1="446.4" x2="1200.6" y2="531.4"/>
<line x1="1159.8" y1="550.5" x2="1201.6" y2="530.9"/>
<polygon points="1159.3,450.3 1163.2,453.9 1160.0,455.6" fill="#c2c2c2" stroke="none"/>
<polygon points="1199.0,528.3 1195.1,524.7 1198.3,523.0" fill="#c2c2c2" stroke="none"/>
</g>
</svg>
<div class="mk" style="left:810.9px;top:357.6px">A</div>
<div class="mk" style="left:884.3px;top:408.6px">B</div>
<div class="mk" style="left:599.5px;top:493.9px">G</div>
<div class="mk" style="left:466.1px;top:719.5px">D</div>
<div class="mk" style="left:199.0px;top:985.3px">H</div>
<div class="mk" style="left:486.8px;top:1058.5px">E</div>
<div class="mk" style="left:842.9px;top:1081.1px">K</div>
<div class="mk" style="left:983.3px;top:1144.8px">I</div>
<div class="mk" style="left:983.7px;top:834.5px">C</div>
<div class="mk" style="left:1158.3px;top:875.1px">F</div>
<div class="mk" style="left:1334.7px;top:1057.6px">L</div>
<div class="mk" style="left:1159.9px;top:473.5px">J</div>
<div class="t" style="left:32.15px;top:39.12px;font-size:105px;font-weight:bold;color:#000;transform:scaleX(0.9177)">e-Cygnus</div>
<div class="t" style="left:33.22px;top:169.36px;font-size:59px;font-weight:normal;color:#000;transform:scaleX(1.0430)">Geometry details</div>
<div class="t" style="left:1615.60px;top:473.29px;font-size:20.8px;font-weight:bold;color:#000;transform:scaleX(1.0422)">A</div>
<div class="t" style="left:1661.61px;top:473.29px;font-size:20.8px;font-weight:normal;color:#111;transform:scaleX(1.1201)">Top tube horizontal</div>
<div class="t" style="left:1921.87px;top:480.69px;font-size:20.8px;font-weight:normal;color:#1a1a1a;transform:scaleX(1.1474)">595</div>
<div class="t" style="left:1965.85px;top:480.69px;font-size:20.8px;font-weight:normal;color:#8c8c8c;transform:scaleX(1.1493)">mm</div>
<div class="t" style="left:2049.94px;top:473.29px;font-size:20.8px;font-weight:normal;color:#1a1a1a;transform:scaleX(1.1819)">620</div>
<div class="t" style="left:2096.26px;top:473.29px;font-size:20.8px;font-weight:normal;color:#8c8c8c;transform:scaleX(1.1282)">mm</div>
<div class="t" style="left:2178.96px;top:473.29px;font-size:20.8px;font-weight:normal;color:#1a1a1a;transform:scaleX(1.1922)">650</div>
<div class="t" style="left:2225.27px;top:473.29px;font-size:20.8px;font-weight:normal;color:#8c8c8c;transform:scaleX(1.1388)">mm</div>
<div class="t" style="left:1614.97px;top:529.09px;font-size:20.8px;font-weight:bold;color:#000;transform:scaleX(1.1181)">B</div>
<div class="t" style="left:1660.22px;top:529.09px;font-size:20.8px;font-weight:normal;color:#111;transform:scaleX(1.1121)">Reach</div>
<div class="t" style="left:1922.37px;top:536.49px;font-size:20.8px;font-weight:normal;color:#1a1a1a;transform:scaleX(1.1028)">445</div>
<div class="t" style="left:1964.84px;top:536.49px;font-size:20.8px;font-weight:normal;color:#8c8c8c;transform:scaleX(1.1493)">mm</div>
<div class="t" style="left:2050.72px;top:529.09px;font-size:20.8px;font-weight:normal;color:#1a1a1a;transform:scaleX(1.0893)">470</div>
<div class="t" style="left:2093.86px;top:529.09px;font-size:20.8px;font-weight:normal;color:#8c8c8c;transform:scaleX(1.1493)">mm</div>
<div class="t" style="left:2179.73px;top:529.09px;font-size:20.8px;font-weight:normal;color:#1a1a1a;transform:scaleX(1.1129)">495</div>
<div class="t" style="left:2222.92px;top:529.09px;font-size:20.8px;font-weight:normal;color:#8c8c8c;transform:scaleX(1.1282)">mm</div>
<div class="t" style="left:1614.50px;top:584.89px;font-size:20.8px;font-weight:bold;color:#000;transform:scaleX(1.1652)">C</div>
<div class="t" style="left:1661.05px;top:584.89px;font-size:20.8px;font-weight:normal;color:#111;transform:scaleX(1.0914)">Stack</div>
<div class="t" style="left:1921.55px;top:592.29px;font-size:20.8px;font-weight:normal;color:#1a1a1a;transform:scaleX(1.2244)">602</div>
<div class="t" style="left:1967.54px;top:592.29px;font-size:20.8px;font-weight:normal;color:#8c8c8c;transform:scaleX(1.1493)">mm</div>
<div class="t" style="left:2050.24px;top:584.89px;font-size:20.8px;font-weight:normal;color:#1a1a1a;transform:scaleX(0.8985)">611</div>
<div class="t" style="left:2084.76px;top:584.89px;font-size:20.8px;font-weight:normal;color:#8c8c8c;transform:scaleX(1.1388)">mm</div>
<div class="t" style="left:2179.03px;top:584.89px;font-size:20.8px;font-weight:normal;color:#1a1a1a;transform:scaleX(1.1238)">625</div>
<div class="t" style="left:2222.56px;top:584.89px;font-size:20.8px;font-weight:normal;color:#8c8c8c;transform:scaleX(1.1388)">mm</div>
<div class="t" style="left:1614.61px;top:640.69px;font-size:20.8px;font-weight:bold;color:#000;transform:scaleX(1.1354)">D</div>
<div class="t" style="left:1661.01px;top:640.69px;font-size:20.8px;font-weight:normal;color:#111;transform:scaleX(1.1339)">Seat tube length</div>
<div class="t" style="left:1922.42px;top:648.09px;font-size:20.8px;font-weight:normal;color:#1a1a1a;transform:scaleX(0.9611)">415</div>
<div class="t" style="left:1960.10px;top:648.09px;font-size:20.8px;font-weight:normal;color:#8c8c8c;transform:scaleX(1.1599)">mm</div>
<div class="t" style="left:2050.72px;top:640.69px;font-size:20.8px;font-weight:normal;color:#1a1a1a;transform:scaleX(1.0927)">455</div>
<div class="t" style="left:2093.86px;top:640.69px;font-size:20.8px;font-weight:normal;color:#8c8c8c;transform:scaleX(1.1493)">mm</div>
<div class="t" style="left:2179.15px;top:640.69px;font-size:20.8px;font-weight:normal;color:#1a1a1a;transform:scaleX(1.2562)">500</div>
<div class="t" style="left:2227.29px;top:640.69px;font-size:20.8px;font-weight:normal;color:#8c8c8c;transform:scaleX(1.1388)">mm</div>
<div class="t" style="left:1615.72px;top:696.49px;font-size:20.8px;font-weight:bold;color:#000;transform:scaleX(1.0634)">E</div>
<div class="t" style="left:1660.93px;top:696.49px;font-size:20.8px;font-weight:normal;color:#111;transform:scaleX(1.1019)">Chainstay horizontal</div>
<div class="t" style="left:1922.36px;top:703.89px;font-size:20.8px;font-weight:normal;color:#1a1a1a;transform:scaleX(1.1129)">448</div>
<div class="t" style="left:1965.53px;top:703.89px;font-size:20.8px;font-weight:normal;color:#8c8c8c;transform:scaleX(1.1388)">mm</div>
<div class="t" style="left:2050.71px;top:696.49px;font-size:20.8px;font-weight:normal;color:#1a1a1a;transform:scaleX(1.1129)">448</div>
<div class="t" style="left:2094.20px;top:696.49px;font-size:20.8px;font-weight:normal;color:#8c8c8c;transform:scaleX(1.1493)">mm</div>
<div class="t" style="left:2179.73px;top:696.49px;font-size:20.8px;font-weight:normal;color:#1a1a1a;transform:scaleX(1.1129)">448</div>
<div class="t" style="left:2222.89px;top:696.49px;font-size:20.8px;font-weight:normal;color:#8c8c8c;transform:scaleX(1.1493)">mm</div>
<div class="t" style="left:1616.41px;top:752.29px;font-size:20.8px;font-weight:bold;color:#000;transform:scaleX(1.0507)">F</div>
<div class="t" style="left:1660.23px;top:752.29px;font-size:20.8px;font-weight:normal;color:#111;transform:scaleX(1.1118)">Head tube angle</div>
<div class="t" style="left:1921.71px;top:759.69px;font-size:20.8px;font-weight:normal;color:#1a1a1a;transform:scaleX(1.0708)">67</div>
<div class="deg" style="left:1946.82px;top:765.80px"></div>
<div class="t" style="left:2050.05px;top:752.29px;font-size:20.8px;font-weight:normal;color:#1a1a1a;transform:scaleX(1.0827)">67</div>
<div class="deg" style="left:2075.51px;top:758.40px"></div>
<div class="t" style="left:2179.09px;top:752.29px;font-size:20.8px;font-weight:normal;color:#1a1a1a;transform:scaleX(1.0589)">67</div>
<div class="deg" style="left:2203.86px;top:758.40px"></div>
<div class="t" style="left:1614.15px;top:808.09px;font-size:20.8px;font-weight:bold;color:#000;transform:scaleX(1.1906)">G</div>
<div class="t" style="left:1661.52px;top:808.09px;font-size:20.8px;font-weight:normal;color:#111;transform:scaleX(1.1077)">Seat tube angle</div>
<div class="t" style="left:1921.79px;top:815.49px;font-size:20.8px;font-weight:normal;color:#1a1a1a;transform:scaleX(1.0352)">76</div>
<div class="deg" style="left:1946.14px;top:821.60px"></div>
<div class="t" style="left:2050.06px;top:808.09px;font-size:20.8px;font-weight:normal;color:#1a1a1a;transform:scaleX(1.0352)">76</div>
<div class="deg" style="left:2074.42px;top:814.20px"></div>
<div class="t" style="left:2178.68px;top:808.09px;font-size:20.8px;font-weight:normal;color:#1a1a1a;transform:scaleX(1.0352)">76</div>
<div class="deg" style="left:2203.04px;top:814.20px"></div>
<div class="t" style="left:1614.96px;top:863.89px;font-size:20.8px;font-weight:bold;color:#000;transform:scaleX(1.1398)">H</div>
<div class="t" style="left:1660.70px;top:863.89px;font-size:20.8px;font-weight:normal;color:#111;transform:scaleX(1.1185)">BB drop</div>
<div class="t" style="left:1921.78px;top:871.29px;font-size:20.8px;font-weight:normal;color:#1a1a1a;transform:scaleX(1.0424)">−36</div>
<div class="t" style="left:1962.91px;top:871.29px;font-size:20.8px;font-weight:normal;color:#8c8c8c;transform:scaleX(1.1609)">mm</div>
<div class="t" style="left:2050.05px;top:863.89px;font-size:20.8px;font-weight:normal;color:#1a1a1a;transform:scaleX(1.0424)">−36</div>
<div class="t" style="left:2091.20px;top:863.89px;font-size:20.8px;font-weight:normal;color:#8c8c8c;transform:scaleX(1.1503)">mm</div>
<div class="t" style="left:2178.67px;top:863.89px;font-size:20.8px;font-weight:normal;color:#1a1a1a;transform:scaleX(1.0424)">−36</div>
<div class="t" style="left:2219.82px;top:863.89px;font-size:20.8px;font-weight:normal;color:#8c8c8c;transform:scaleX(1.1503)">mm</div>
<div class="t" style="left:1619.26px;top:919.69px;font-size:20.8px;font-weight:bold;color:#000;transform:scaleX(1.2443)">I</div>
<div class="t" style="left:1662.45px;top:919.69px;font-size:20.8px;font-weight:normal;color:#111;transform:scaleX(1.1008)">Wheel base</div>
<div class="t" style="left:1921.33px;top:927.09px;font-size:20.8px;font-weight:normal;color:#1a1a1a;transform:scaleX(0.9833)">1168</div>
<div class="t" style="left:1969.74px;top:927.09px;font-size:20.8px;font-weight:normal;color:#8c8c8c;transform:scaleX(1.1609)">mm</div>
<div class="t" style="left:2049.67px;top:919.69px;font-size:20.8px;font-weight:normal;color:#1a1a1a;transform:scaleX(0.9396)">1197</div>
<div class="t" style="left:2096.02px;top:919.69px;font-size:20.8px;font-weight:normal;color:#8c8c8c;transform:scaleX(1.1183)">mm</div>
<div class="t" style="left:2178.31px;top:919.69px;font-size:20.8px;font-weight:normal;color:#1a1a1a;transform:scaleX(0.9272)">1241</div>
<div class="t" style="left:2225.62px;top:919.69px;font-size:20.8px;font-weight:normal;color:#8c8c8c;transform:scaleX(1.1503)">mm</div>
<div class="t" style="left:1617.91px;top:975.49px;font-size:20.8px;font-weight:bold;color:#000;transform:scaleX(0.9668)">J</div>
<div class="t" style="left:1660.68px;top:975.49px;font-size:20.8px;font-weight:normal;color:#111;transform:scaleX(1.1308)">Head tube length</div>
<div class="t" style="left:1921.10px;top:982.89px;font-size:20.8px;font-weight:normal;color:#1a1a1a;transform:scaleX(1.1286)">100</div>
<div class="t" style="left:1964.98px;top:982.89px;font-size:20.8px;font-weight:normal;color:#8c8c8c;transform:scaleX(1.1503)">mm</div>
<div class="t" style="left:2049.62px;top:975.49px;font-size:20.8px;font-weight:normal;color:#1a1a1a;transform:scaleX(0.9720)">110</div>
<div class="t" style="left:2086.78px;top:975.49px;font-size:20.8px;font-weight:normal;color:#8c8c8c;transform:scaleX(1.1396)">mm</div>
<div class="t" style="left:2178.19px;top:975.49px;font-size:20.8px;font-weight:normal;color:#1a1a1a;transform:scaleX(1.0053)">125</div>
<div class="t" style="left:2217.43px;top:975.49px;font-size:20.8px;font-weight:normal;color:#8c8c8c;transform:scaleX(1.1503)">mm</div>
<div class="t" style="left:1615.47px;top:1031.29px;font-size:20.8px;font-weight:bold;color:#000;transform:scaleX(1.0172)">K</div>
<div class="t" style="left:1660.73px;top:1031.29px;font-size:20.8px;font-weight:normal;color:#111;transform:scaleX(1.0999)">BB height</div>
<div class="t" style="left:1921.96px;top:1038.69px;font-size:20.8px;font-weight:normal;color:#1a1a1a;transform:scaleX(1.0797)">334</div>
<div class="t" style="left:1964.31px;top:1038.69px;font-size:20.8px;font-weight:normal;color:#8c8c8c;transform:scaleX(1.1396)">mm</div>
<div class="t" style="left:2050.24px;top:1031.29px;font-size:20.8px;font-weight:normal;color:#1a1a1a;transform:scaleX(1.0797)">334</div>
<div class="t" style="left:2092.55px;top:1031.29px;font-size:20.8px;font-weight:normal;color:#8c8c8c;transform:scaleX(1.1609)">mm</div>
<div class="t" style="left:2178.86px;top:1031.29px;font-size:20.8px;font-weight:normal;color:#1a1a1a;transform:scaleX(1.0797)">334</div>
<div class="t" style="left:2221.19px;top:1031.29px;font-size:20.8px;font-weight:normal;color:#8c8c8c;transform:scaleX(1.1503)">mm</div>
<div class="t" style="left:1616.11px;top:1087.09px;font-size:20.8px;font-weight:bold;color:#000;transform:scaleX(1.0510)">L</div>
<div class="t" style="left:1660.72px;top:1087.09px;font-size:20.8px;font-weight:normal;color:#111;transform:scaleX(1.1041)">Fork offset</div>
<div class="t" style="left:1922.41px;top:1094.49px;font-size:20.8px;font-weight:normal;color:#1a1a1a;transform:scaleX(1.0831)">44</div>
<div class="t" style="left:1952.03px;top:1094.49px;font-size:20.8px;font-weight:normal;color:#8c8c8c;transform:scaleX(1.1396)">mm</div>
<div class="t" style="left:2050.69px;top:1087.09px;font-size:20.8px;font-weight:normal;color:#1a1a1a;transform:scaleX(1.0831)">44</div>
<div class="t" style="left:2080.64px;top:1087.09px;font-size:20.8px;font-weight:normal;color:#8c8c8c;transform:scaleX(1.1396)">mm</div>
<div class="t" style="left:2179.30px;top:1087.09px;font-size:20.8px;font-weight:normal;color:#1a1a1a;transform:scaleX(1.0831)">44</div>
<div class="t" style="left:2209.26px;top:1087.09px;font-size:20.8px;font-weight:normal;color:#8c8c8c;transform:scaleX(1.1396)">mm</div>
<div class="t" style="left:1921.68px;top:418.21px;font-size:30px;font-weight:bold;color:#000;transform:scaleX(1.2733)">S/M</div>
<div class="t" style="left:2050.18px;top:418.21px;font-size:30px;font-weight:bold;color:#000;transform:scaleX(1.0275)">L</div>
<div class="t" style="left:2179.86px;top:418.21px;font-size:30px;font-weight:bold;color:#000;transform:scaleX(1.1031)">XL</div>
</body></html>
